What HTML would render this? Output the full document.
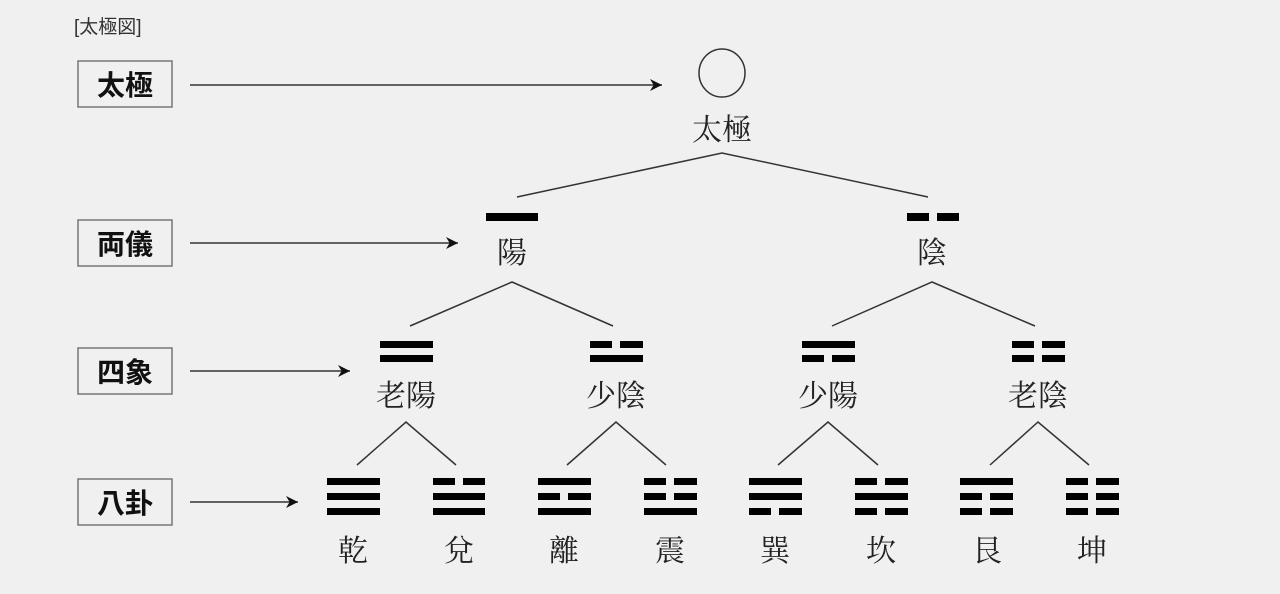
<!DOCTYPE html>
<html><head><meta charset="utf-8"><style>
html,body{margin:0;padding:0;background:#f0f0f0;}
svg{display:block}
.b{font-family:"Liberation Sans","Noto Sans CJK JP",sans-serif;font-size:28px;font-weight:bold;fill:#111;}
.s{font-family:"Liberation Serif","Noto Serif CJK SC",serif;font-size:30px;fill:#222;}
</style></head><body>
<svg width="1280" height="594" viewBox="0 0 1280 594" xmlns="http://www.w3.org/2000/svg">
<defs><marker id="a" viewBox="0 0 10 10" refX="10" refY="5" markerWidth="12" markerHeight="12" markerUnits="userSpaceOnUse" orient="auto"><path d="M0,0 L10,5 L0,10 L3,5 z" fill="#111"/></marker></defs>
<rect width="1280" height="594" fill="#f0f0f0"/>
<text x="74" y="33" font-family="Liberation Sans,'Noto Sans CJK JP',sans-serif" font-size="19" fill="#333">[太極図]</text>
<g fill="none" stroke="#777" stroke-width="1.5">
<rect x="78" y="61" width="94" height="46"/>
<rect x="78" y="220" width="94" height="46"/>
<rect x="78" y="348" width="94" height="46"/>
<rect x="78" y="479" width="94" height="46"/>
</g>
<g class="b" text-anchor="middle">
<text x="125" y="95">太極</text>
<text x="125" y="254">両儀</text>
<text x="125" y="382">四象</text>
<text x="125" y="513">八卦</text>
</g>
<g stroke="#333" stroke-width="1.5" marker-end="url(#a)">
<line x1="190" y1="85" x2="662" y2="85"/>
<line x1="190" y1="243" x2="458" y2="243"/>
<line x1="190" y1="371" x2="350" y2="371"/>
<line x1="190" y1="502" x2="298" y2="502"/>
</g>
<ellipse cx="722" cy="73" rx="23" ry="24" fill="none" stroke="#333" stroke-width="1.5"/>
<g fill="none" stroke="#333" stroke-width="1.5">
<polyline points="517,197 722,153 928,197"/>
<polyline points="410,326 512,282 613,326"/>
<polyline points="832,326 932,282 1035,326"/>
<polyline points="357,465 406,422 456,465"/>
<polyline points="567,465 616,422 666,465"/>
<polyline points="778,465 828,422 878,465"/>
<polyline points="990,465 1038,422 1089,465"/>
</g>
<g fill="#000">
<rect x="486" y="213" width="52" height="8"/>
<rect x="907" y="213" width="22" height="8"/><rect x="937" y="213" width="22" height="8"/>
<rect x="380" y="341" width="53" height="7"/><rect x="380" y="355" width="53" height="7"/>
<rect x="590" y="341" width="22" height="7"/><rect x="620" y="341" width="23" height="7"/><rect x="590" y="355" width="53" height="7"/>
<rect x="802" y="341" width="53" height="7"/><rect x="802" y="355" width="22" height="7"/><rect x="832" y="355" width="23" height="7"/>
<rect x="1012" y="341" width="22" height="7"/><rect x="1042" y="341" width="23" height="7"/><rect x="1012" y="355" width="22" height="7"/><rect x="1042" y="355" width="23" height="7"/>
</g>
<g class="s" text-anchor="middle">
<text x="722" y="140">太極</text>
<text x="512" y="263">陽</text>
<text x="932" y="263">陰</text>
<text x="406" y="406">老陽</text>
<text x="616" y="406">少陰</text>
<text x="828" y="406">少陽</text>
<text x="1038" y="406">老陰</text>
<text x="353" y="561">乾</text>
<text x="459" y="561">兌</text>
<text x="564" y="561">離</text>
<text x="670" y="561">震</text>
<text x="775" y="561">巽</text>
<text x="881" y="561">坎</text>
<text x="987" y="561">艮</text>
<text x="1092" y="561">坤</text>
</g>
<g fill="#000">
<rect x="327" y="478" width="53" height="7"/><rect x="327" y="493" width="53" height="7"/><rect x="327" y="508" width="53" height="7"/>
<rect x="433" y="478" width="22" height="7"/><rect x="463" y="478" width="22" height="7"/><rect x="433" y="493" width="52" height="7"/><rect x="433" y="508" width="52" height="7"/>
<rect x="538" y="478" width="53" height="7"/><rect x="538" y="493" width="22" height="7"/><rect x="568" y="493" width="23" height="7"/><rect x="538" y="508" width="53" height="7"/>
<rect x="644" y="478" width="22" height="7"/><rect x="674" y="478" width="23" height="7"/><rect x="644" y="493" width="22" height="7"/><rect x="674" y="493" width="23" height="7"/><rect x="644" y="508" width="53" height="7"/>
<rect x="749" y="478" width="53" height="7"/><rect x="749" y="493" width="53" height="7"/><rect x="749" y="508" width="22" height="7"/><rect x="779" y="508" width="23" height="7"/>
<rect x="855" y="478" width="22" height="7"/><rect x="885" y="478" width="23" height="7"/><rect x="855" y="493" width="53" height="7"/><rect x="855" y="508" width="22" height="7"/><rect x="885" y="508" width="23" height="7"/>
<rect x="960" y="478" width="53" height="7"/><rect x="960" y="493" width="22" height="7"/><rect x="990" y="493" width="23" height="7"/><rect x="960" y="508" width="22" height="7"/><rect x="990" y="508" width="23" height="7"/>
<rect x="1066" y="478" width="22" height="7"/><rect x="1096" y="478" width="23" height="7"/><rect x="1066" y="493" width="22" height="7"/><rect x="1096" y="493" width="23" height="7"/><rect x="1066" y="508" width="22" height="7"/><rect x="1096" y="508" width="23" height="7"/>
</g>
</svg>
</body></html>
